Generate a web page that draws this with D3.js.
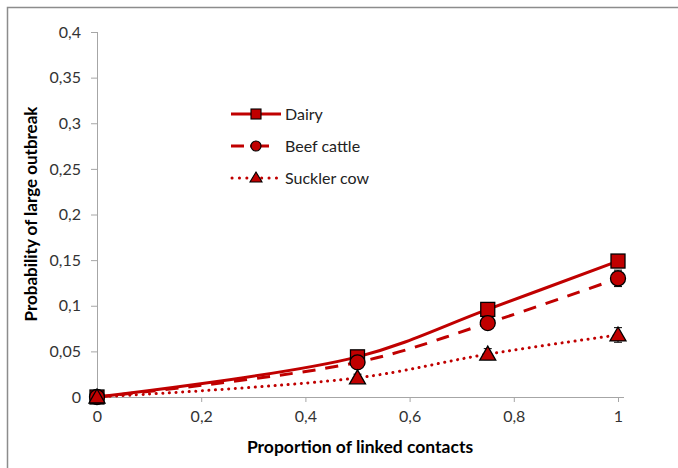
<!DOCTYPE html>
<html><head><meta charset="utf-8">
<script src="https://cdn.jsdelivr.net/npm/d3@7"></script>
<style>
body{margin:0;background:#fff;}
svg{display:block;font-family:Lato,"Open Sans",sans-serif;}
</style></head>
<body><svg id="c" width="678" height="468"></svg>
<script>
const xValues = [0, 0.5, 0.75, 1];
const dairy = [0, 0.044, 0.096, 0.149];
const beef = [0, 0.038, 0.081, 0.130];
const suckler = [0, 0.021, 0.047, 0.068];
const dairyErr = [0, 0.003, 0.004, 0.005];
const beefErr = [0, 0.004, 0.006, 0.009];
const sucklerErr = [0, 0.004, 0.006, 0.008];
const seriesNames = ["Dairy", "Beef cattle", "Suckler cow"];
const yTicks = [0, 0.05, 0.1, 0.15, 0.2, 0.25, 0.3, 0.35, 0.4];
const xTicks = [0, 0.2, 0.4, 0.6, 0.8, 1];

const svg = d3.select("#c");
const red = "#C00000";
const x = d3.scaleLinear().domain([0, 1]).range([97, 618]);
const y = d3.scaleLinear().domain([0, 0.4]).range([397, 32]);
const fmt = d => String(d).replace(".", ",");

// outer frame
svg.append("rect").attr("x", 7.5).attr("y", 7.5).attr("width", 700).attr("height", 500)
  .attr("fill", "none").attr("stroke", "#8c8c8c").attr("stroke-width", 1.5);

// y axis
const ya = svg.append("g").attr("transform", "translate(97,0)")
  .call(d3.axisLeft(y).tickValues(yTicks).tickFormat(fmt).tickSize(6).tickSizeOuter(0));
// x axis
const xa = svg.append("g").attr("transform", "translate(0,397)")
  .call(d3.axisBottom(x).tickValues(xTicks).tickFormat(fmt).tickSize(5).tickSizeOuter(0));
[ya, xa].forEach(g => {
  g.selectAll("path,line").attr("stroke", "#a6a6a6").attr("stroke-width", 1);
  g.selectAll("text").attr("fill", "#333").style("font-size", "16px").style("font-family", "Lato,'Open Sans',sans-serif");
});
ya.select(".domain").attr("d", "M0.5," + y(0.4) + "V" + y(0));
ya.selectAll("text").attr("x", -16);
xa.select(".domain").attr("d", "M" + x(0) + ",0.5H624");
xa.selectAll("text").attr("y", 14);

// axis titles
svg.append("text").attr("transform", "translate(37,214) rotate(-90)").attr("text-anchor", "middle")
  .style("font-size", "17px").style("font-weight", "bold").attr("fill", "#000")
  .text("Probability of large outbreak");
svg.append("text").attr("x", 360).attr("y", 453).attr("text-anchor", "middle")
  .style("font-size", "17.5px").style("font-weight", "bold").attr("fill", "#000")
  .text("Proportion of linked contacts");

const series = [
  {name: seriesNames[0], vals: dairy, err: dairyErr, dash: null, marker: "square"},
  {name: seriesNames[1], vals: beef, err: beefErr, dash: "13,10", marker: "circle"},
  {name: seriesNames[2], vals: suckler, err: sucklerErr, dash: "0.1,6.5", marker: "triangle"}
];
const line = d3.line().x(d => x(d[0])).y(d => y(d[1])).curve(d3.curveCatmullRom.alpha(0.5));

function drawMarker(g, type, cx, cy) {
  if (type === "square") {
    g.append("rect").attr("x", cx - 7).attr("y", cy - 7).attr("width", 14).attr("height", 14)
      .attr("fill", red).attr("stroke", "#000").attr("stroke-width", 1.3);
  } else if (type === "circle") {
    g.append("circle").attr("cx", cx).attr("cy", cy).attr("r", 7.5)
      .attr("fill", red).attr("stroke", "#000").attr("stroke-width", 1.3);
  } else {
    g.append("path").attr("d", `M${cx},${cy - 8}L${cx + 8},${cy + 6}L${cx - 8},${cy + 6}Z`)
      .attr("fill", red).attr("stroke", "#000").attr("stroke-width", 1.3);
  }
}

// lines
series.forEach(s => {
  const p = svg.append("path").datum(xValues.map((v, i) => [v, s.vals[i]]))
    .attr("d", line).attr("fill", "none").attr("stroke", red).attr("stroke-width", 3);
  if (s.dash) p.attr("stroke-dasharray", s.dash);
  if (s.marker === "triangle") p.attr("stroke-linecap", "round");
});
// error bars
series.forEach(s => {
  const g = svg.append("g").attr("stroke", "#000").attr("stroke-width", 1);
  xValues.forEach((v, i) => {
    if (!s.err[i]) return;
    const cx = x(v), y1 = y(s.vals[i] - s.err[i]), y2 = y(s.vals[i] + s.err[i]);
    g.append("line").attr("x1", cx).attr("x2", cx).attr("y1", y1).attr("y2", y2);
    g.append("line").attr("x1", cx - 4).attr("x2", cx + 4).attr("y1", y1).attr("y2", y1);
    g.append("line").attr("x1", cx - 4).attr("x2", cx + 4).attr("y1", y2).attr("y2", y2);
  });
});
// markers
series.forEach(s => {
  const g = svg.append("g");
  xValues.forEach((v, i) => drawMarker(g, s.marker, x(v), y(s.vals[i])));
});

// legend
const legY = [114, 146, 178];
const legDash = [null, "13,6,19,20", "0.1,7.3"];
series.forEach((s, i) => {
  const ly = legY[i];
  const p = svg.append("line").attr("x1", 231).attr("x2", 281).attr("y1", ly).attr("y2", ly)
    .attr("stroke", red).attr("stroke-width", 3);
  if (legDash[i]) p.attr("stroke-dasharray", legDash[i]);
  if (s.marker === "triangle") p.attr("stroke-linecap", "round").attr("x1", 232).attr("x2", 277);
  const g = svg.append("g");
  if (s.marker === "square") {
    g.append("rect").attr("x", 251).attr("y", ly - 5).attr("width", 10).attr("height", 10)
      .attr("fill", red).attr("stroke", "#000").attr("stroke-width", 1.1);
  } else if (s.marker === "circle") {
    g.append("circle").attr("cx", 256).attr("cy", ly).attr("r", 5)
      .attr("fill", red).attr("stroke", "#000").attr("stroke-width", 1.1);
  } else {
    g.append("path").attr("d", `M256,${ly - 6}L262,${ly + 4}L250,${ly + 4}Z`)
      .attr("fill", red).attr("stroke", "#000").attr("stroke-width", 1.1);
  }
  svg.append("text").attr("x", 285).attr("y", ly + 5.5).style("font-size", "16px").attr("fill", "#222")
    .text(s.name);
});
</script></body></html>
